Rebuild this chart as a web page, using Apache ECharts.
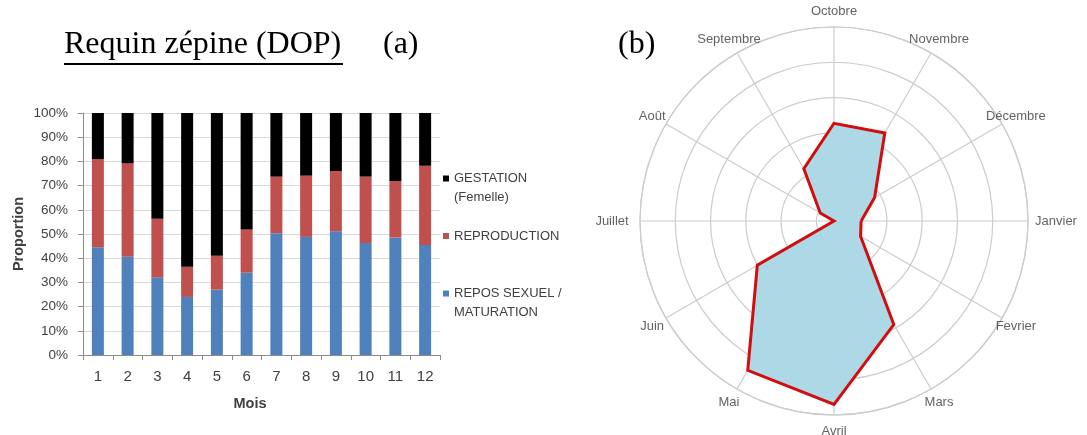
<!DOCTYPE html>
<html>
<head>
<meta charset="utf-8">
<title>Requin zépine (DOP)</title>
<script src="https://cdn.jsdelivr.net/npm/echarts@6/dist/echarts.min.js"></script>
<style>
  html, body { margin: 0; padding: 0; background: #ffffff; }
  #chart { width: 1087px; height: 435px; }
</style>
</head>
<body>
<div id="chart"></div>
<script>
// (a) monthly proportions of maturity stages (stacked to 100 %)
const mois = ['1', '2', '3', '4', '5', '6', '7', '8', '9', '10', '11', '12'];
const reposSexuel  = [44.5, 40.6, 32.1, 24.0, 27.0, 34.0, 50.3, 48.8, 51.1, 46.3, 48.5, 45.5];
const reproduction = [36.5, 38.6, 24.2, 12.5, 14.0, 17.9, 23.4, 25.3, 24.9, 27.4, 23.4, 32.7];
const gestation    = [19.0, 20.8, 43.7, 63.5, 59.0, 48.1, 26.3, 25.9, 24.0, 26.3, 28.1, 21.8];

// (b) radial plot, one spoke per month, starting at Janvier and running clockwise
const moisNoms = ['Janvier', 'Fevrier', 'Mars', 'Avril', 'Mai', 'Juin',
                  'Juillet', 'Août', 'Septembre', 'Octobre', 'Novembre', 'Décembre'];
const indiceRadial = [2.7, 3.7, 28.9, 47.0, 43.9, 20.1, -5.0, -0.5, 12.1, 22.7, 23.8, 8.3];

const NOM_GEST = 'GESTATION\n(Femelle)';
const NOM_REPRO = 'REPRODUCTION';
const NOM_REPOS = 'REPOS SEXUEL /\nMATURATION';

const SANS = '"Liberation Sans", Arial, sans-serif';
const SERIF = '"Liberation Serif", "Times New Roman", serif';
const GRIS = '#d9d9d9';
const AXE = '#8c8c8c';
const TEXTE = '#404040';
const GRILLE_POLAIRE = '#cccccc';

// each month owns an equal share of the full turn
const PAS_ANGLE = 360 / moisNoms.length;

const chart = echarts.init(document.getElementById('chart'), null, { renderer: 'canvas' });

// closed outline: repeat the first month one full turn later
const contour = moisNoms.map((m, i) => [indiceRadial[i], i * PAS_ANGLE]);
contour.push([indiceRadial[0], moisNoms.length * PAS_ANGLE]);

const axeAngleBase = {
  type: 'value',
  min: 0,
  max: 360,
  interval: PAS_ANGLE,
  startAngle: 0,
  clockwise: true,
  axisTick: { show: false },
  axisLabel: { show: false }
};

// horizontal labels sit a little further out than the others
function decalage(i) {
  const c = Math.cos(i * PAS_ANGLE * Math.PI / 180);
  return Math.abs(c) > 0.99 ? [c * 12, 0] : [0, 0];
}

const option = {
  backgroundColor: '#ffffff',
  animation: false,
  textStyle: { fontFamily: SANS },
  graphic: [
    { type: 'text', x: 64, y: 45, style: { text: 'Requin zépine (DOP)', font: '32px ' + SERIF, fill: '#000', verticalAlign: 'middle' } },
    { type: 'line', shape: { x1: 64, y1: 64, x2: 343, y2: 64 }, style: { stroke: '#000', lineWidth: 2 } },
    { type: 'text', x: 383, y: 45, style: { text: '(a)', font: '32px ' + SERIF, fill: '#000', verticalAlign: 'middle' } },
    { type: 'text', x: 618, y: 45, style: { text: '(b)', font: '32px ' + SERIF, fill: '#000', verticalAlign: 'middle' } }
  ],
  legend: {
    orient: 'vertical',
    left: 443,
    top: 150,
    padding: 0,
    itemWidth: 6,
    itemHeight: 6,
    itemGap: 19.5,
    icon: 'rect',
    data: [NOM_GEST, NOM_REPRO, NOM_REPOS],
    formatter: function (name) { return name.indexOf('\n') >= 0 ? '\n' + name : name; },
    textStyle: { fontFamily: SANS, fontSize: 13, color: TEXTE, lineHeight: 19 }
  },
  grid: {
    left: 83, top: 113, width: 357, height: 242,
    outerBoundsMode: 'none'
  },
  xAxis: {
    type: 'category',
    data: mois,
    name: 'Mois',
    nameLocation: 'middle',
    nameGap: 41,
    nameTextStyle: { fontFamily: SANS, fontSize: 14.5, fontWeight: 'bold', color: TEXTE, padding: [0, 23, 0, 0] },
    axisLine: { show: true, lineStyle: { color: AXE, width: 1 } },
    axisTick: { show: true, length: 5, lineStyle: { color: AXE } },
    axisLabel: { margin: 14, fontFamily: SANS, fontSize: 15, color: TEXTE },
    splitLine: { show: false }
  },
  yAxis: {
    type: 'value',
    min: 0,
    max: 100,
    interval: 10,
    name: 'Proportion',
    nameLocation: 'middle',
    nameRotate: 90,
    nameGap: 57,
    nameTextStyle: { fontFamily: SANS, fontSize: 14.5, fontWeight: 'bold', color: TEXTE },
    axisLine: { show: true, lineStyle: { color: AXE, width: 1 } },
    axisTick: { show: true, length: 5, lineStyle: { color: AXE } },
    axisLabel: { margin: 15, fontFamily: SANS, fontSize: 13.5, color: TEXTE, formatter: '{value}%' },
    splitLine: { show: true, lineStyle: { color: GRIS, width: 1 } }
  },
  polar: [
    { center: [834, 221], radius: 194 },
    { center: [834, 221], radius: 210 }
  ],
  angleAxis: [
    Object.assign({}, axeAngleBase, {
      polarIndex: 0,
      axisLine: { show: true, lineStyle: { color: GRILLE_POLAIRE, width: 1.2 } },
      splitLine: { show: true, lineStyle: { color: GRILLE_POLAIRE, width: 1.2 } }
    }),
    Object.assign({}, axeAngleBase, {
      polarIndex: 1,
      axisLine: { show: false },
      splitLine: { show: false }
    })
  ],
  radiusAxis: [
    {
      polarIndex: 0,
      type: 'value',
      min: -5,
      max: 50,
      axisLine: { show: false },
      axisTick: { show: false },
      axisLabel: { show: false },
      splitLine: { show: true, lineStyle: { color: GRILLE_POLAIRE, width: 1.2 } }
    },
    {
      polarIndex: 1,
      type: 'value',
      min: 0,
      max: 1,
      axisLine: { show: false },
      axisTick: { show: false },
      axisLabel: { show: false },
      splitLine: { show: false }
    }
  ],
  series: [
    {
      name: NOM_REPOS, type: 'bar', stack: 'total', barWidth: 12,
      itemStyle: { color: '#4f81bd' },
      data: reposSexuel
    },
    {
      name: NOM_REPRO, type: 'bar', stack: 'total', barWidth: 12,
      itemStyle: { color: '#c0504d' },
      data: reproduction
    },
    {
      name: NOM_GEST, type: 'bar', stack: 'total', barWidth: 12,
      itemStyle: { color: '#000000' },
      data: gestation
    },
    {
      name: 'indice', type: 'line',
      coordinateSystem: 'polar', polarIndex: 0,
      data: contour,
      symbol: 'none',
      smooth: false,
      clip: false,
      lineStyle: { color: '#d10d0d', width: 3, join: 'miter' },
      areaStyle: { color: '#add8e6', opacity: 1, origin: 'start' },
      z: 3
    },
    {
      name: 'mois', type: 'scatter',
      coordinateSystem: 'polar', polarIndex: 1,
      symbolSize: 0,
      data: moisNoms.map((m, i) => ({
        value: [1, i * PAS_ANGLE],
        name: m,
        label: { offset: decalage(i) }
      })),
      label: {
        show: true,
        position: 'inside',
        formatter: function (p) { return p.name; },
        fontFamily: SANS,
        fontSize: 13,
        color: '#3a3a3a'
      },
      silent: true
    }
  ]
};

chart.setOption(option);
</script>
</body>
</html>
